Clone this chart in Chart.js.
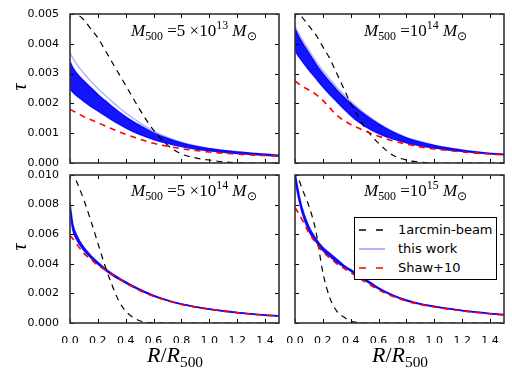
<!DOCTYPE html>
<html>
<head>
<meta charset="utf-8">
<script src="https://cdn.jsdelivr.net/npm/chart.js@4.4.0/dist/chart.umd.min.js"></script>
<style>
body { margin: 0; width: 512px; height: 376px; background: #fff; position: relative; overflow: hidden; }
canvas { position: absolute; left: 0; top: 0; }
.txt { position: absolute; font-family: "Liberation Serif", serif; white-space: nowrap; line-height: 1; color: #000; }
.txt sub, .txt sup { font-size: 0.7em; line-height: 0; }
.txt sub { vertical-align: -0.35em; }
.txt sup { vertical-align: 0.55em; }
.ann { font-size: 17px; }
.tau { font-size: 20px; font-style: italic; transform: rotate(-90deg); }
.xlab { font-size: 22px; width: 200px; text-align: center; }
#legend { position: absolute; left: 354px; top: 217px; width: 141px; height: 61px; border: 1px solid #000; background: #fff;
  font-family: "DejaVu Sans", sans-serif; font-size: 13px; z-index: 5; }
#legend div { position: absolute; left: 0; height: 19px; line-height: 19px; }
#legend svg { position: absolute; left: 3px; top: 0; }
#legend span { position: absolute; left: 43px; white-space: nowrap; }
</style>
</head>
<body>
<canvas id="pA" width="512" height="376"></canvas>
<canvas id="pB" width="512" height="376"></canvas>
<canvas id="pC" width="512" height="376"></canvas>
<canvas id="pD" width="512" height="376"></canvas>

<div class="txt ann" style="left:131px;top:22px"><i>M</i><sub>500</sub> =5 ×10<sup>13</sup> <i>M</i><sub>⊙</sub></div>
<div class="txt ann" style="left:364px;top:22px"><i>M</i><sub>500</sub> =10<sup>14</sup> <i>M</i><sub>⊙</sub></div>
<div class="txt ann" style="left:131px;top:182px"><i>M</i><sub>500</sub> =5 ×10<sup>14</sup> <i>M</i><sub>⊙</sub></div>
<div class="txt ann" style="left:364px;top:182px"><i>M</i><sub>500</sub> =10<sup>15</sup> <i>M</i><sub>⊙</sub></div>

<div class="txt tau" style="left:15px;top:77px">τ</div>
<div class="txt tau" style="left:15px;top:237px">τ</div>

<div class="txt xlab" style="left:75px;top:344px"><i>R</i>/<i>R</i><sub>500</sub></div>
<div class="txt xlab" style="left:300px;top:344px"><i>R</i>/<i>R</i><sub>500</sub></div>

<div id="legend">
  <div style="top:2px;width:141px"><svg width="30" height="19"><line x1="1" y1="10" x2="27" y2="10" stroke="#000" stroke-width="1.3" stroke-dasharray="7,10"/></svg><span>1arcmin-beam</span></div>
  <div style="top:21px;width:141px"><svg width="30" height="19"><line x1="1" y1="10" x2="27" y2="10" stroke="rgba(0,0,255,0.3)" stroke-width="2"/></svg><span>this work</span></div>
  <div style="top:40px;width:141px"><svg width="30" height="19"><line x1="1" y1="10" x2="27" y2="10" stroke="#ff0000" stroke-width="1.5" stroke-dasharray="7,10"/></svg><span>Shaw+10</span></div>
</div>

<script>
const radius = [0, 0.02, 0.05, 0.1, 0.15, 0.2, 0.25, 0.3, 0.35, 0.4, 0.45, 0.5, 0.6, 0.7, 0.8, 0.9, 1.0, 1.1, 1.2, 1.3, 1.4, 1.5];
const xTicks = [0, 0.2, 0.4, 0.6, 0.8, 1.0, 1.2, 1.4];
const yTicksTop = [0, 0.001, 0.002, 0.003, 0.004, 0.005];
const yTicksBottom = [0, 0.002, 0.004, 0.006, 0.008, 0.010];

// M500 = 5e13
const beamA = [0.0051, 0.00508, 0.0050, 0.0048, 0.0045, 0.0042, 0.0038, 0.0034, 0.0030, 0.0026, 0.0022, 0.0018, 0.0011, 0.0006, 0.0003, 0.00017, 0.0001, 0.00004, 0.00001, 0, 0, 0];
const shawA = [0.0018, 0.00175, 0.00168, 0.00155, 0.00145, 0.00135, 0.00125, 0.00115, 0.00105, 0.00096, 0.00088, 0.0008, 0.00066, 0.00056, 0.00048, 0.00042, 0.00037, 0.00033, 0.0003, 0.00027, 0.00025, 0.00023];
const workHiA = [0.0034, 0.0032, 0.0030, 0.00275, 0.00252, 0.0023, 0.0021, 0.0019, 0.00172, 0.00155, 0.0014, 0.00126, 0.00101, 0.00082, 0.00067, 0.00056, 0.00048, 0.00042, 0.00037, 0.00033, 0.00029, 0.00026];
const workLoA = [0.0025, 0.00238, 0.00225, 0.00207, 0.0019, 0.00175, 0.0016, 0.00145, 0.00131, 0.00118, 0.00106, 0.00096, 0.00079, 0.00066, 0.00055, 0.00047, 0.00041, 0.00036, 0.00032, 0.00029, 0.00026, 0.00023];
const workFaintA = [0.0037, 0.00352, 0.0033, 0.0030, 0.00274, 0.0025, 0.00228, 0.00207, 0.00187, 0.00168, 0.00151, 0.00135, 0.00107, 0.00086, 0.0007, 0.00058, 0.00049, 0.00043, 0.00038, 0.00033, 0.0003, 0.00027];

// M500 = 1e14
const beamB = [0.0052, 0.0051, 0.0049, 0.0046, 0.0043, 0.0039, 0.0035, 0.0030, 0.0025, 0.0020, 0.0016, 0.0012, 0.00066, 0.00027, 0.0001, 0.00003, 0, 0, 0, 0, 0, 0];
const shawB = [0.00275, 0.00268, 0.00258, 0.00245, 0.0023, 0.0021, 0.00185, 0.0016, 0.00143, 0.00129, 0.00118, 0.00108, 0.0009, 0.00075, 0.00063, 0.00054, 0.00047, 0.00042, 0.00037, 0.00033, 0.0003, 0.00027];
const workHiB = [0.0045, 0.0043, 0.00405, 0.00368, 0.00332, 0.0030, 0.00272, 0.00245, 0.00221, 0.0020, 0.0018, 0.00162, 0.0013, 0.00104, 0.00084, 0.0007, 0.00059, 0.0005, 0.00043, 0.00037, 0.00032, 0.00029];
const workLoB = [0.0038, 0.00362, 0.00343, 0.00312, 0.00284, 0.00256, 0.0023, 0.00206, 0.00182, 0.0016, 0.0014, 0.00124, 0.00099, 0.00081, 0.00068, 0.00058, 0.0005, 0.00044, 0.00039, 0.00035, 0.00031, 0.00028];
const workFaintB = [0.0046, 0.0044, 0.00415, 0.00378, 0.00342, 0.0031, 0.00282, 0.00254, 0.00229, 0.00207, 0.00186, 0.00167, 0.00134, 0.00107, 0.00086, 0.00072, 0.0006, 0.00051, 0.00044, 0.00038, 0.00033, 0.00029];

// M500 = 5e14
const beamC = [0.0102, 0.0101, 0.0095, 0.0083, 0.0069, 0.0054, 0.0039, 0.0026, 0.0015, 0.0008, 0.0004, 0.00015, 0.00002, 0, 0, 0, 0, 0, 0, 0, 0, 0];
const shawC = [0.0059, 0.0057, 0.0053, 0.0047, 0.0043, 0.0039, 0.0036, 0.0033, 0.003, 0.0027, 0.00245, 0.0022, 0.0018, 0.0015, 0.00125, 0.00107, 0.00093, 0.0008, 0.0007, 0.0006, 0.00052, 0.00046];
const workHiC = [0.0081, 0.0067, 0.0059, 0.0051, 0.00455, 0.0041, 0.0037, 0.00335, 0.00305, 0.00278, 0.00252, 0.00228, 0.00186, 0.00154, 0.00129, 0.0011, 0.00095, 0.00082, 0.00071, 0.00062, 0.00054, 0.00048];
const workLoC = [0.0076, 0.0063, 0.0056, 0.0049, 0.0044, 0.00397, 0.0036, 0.00325, 0.00296, 0.0027, 0.00246, 0.00223, 0.00182, 0.00151, 0.00126, 0.00108, 0.00093, 0.0008, 0.0007, 0.00061, 0.00053, 0.00047];

// M500 = 1e15
const beamD = [0.0103, 0.0099, 0.0091, 0.0079, 0.0062, 0.0034, 0.0017, 0.0008, 0.0004, 0.00012, 0.00003, 0, 0, 0, 0, 0, 0, 0, 0, 0, 0, 0];
const shawD = [0.0078, 0.0075, 0.0070, 0.0061, 0.0054, 0.0048, 0.0044, 0.0040, 0.0037, 0.0034, 0.0031, 0.0028, 0.00225, 0.0018, 0.00148, 0.00125, 0.00108, 0.00094, 0.00082, 0.00071, 0.00062, 0.00054];
const workHiD = [0.0102, 0.0091, 0.0078, 0.0065, 0.0057, 0.0051, 0.0047, 0.0043, 0.0039, 0.0036, 0.0033, 0.0030, 0.00238, 0.0019, 0.00155, 0.0013, 0.00113, 0.00098, 0.00085, 0.00074, 0.00065, 0.00057];
const workLoD = [0.0098, 0.0087, 0.0075, 0.0062, 0.0055, 0.0049, 0.0045, 0.0041, 0.0038, 0.0035, 0.0032, 0.0029, 0.0023, 0.00185, 0.0015, 0.00127, 0.0011, 0.00096, 0.00083, 0.00072, 0.00063, 0.00055];

const pts = ys => radius.map((r, i) => ({ x: r, y: ys[i] }));

// inward ticks on all four sides + the frame
const frameTicks = {
  id: 'frameTicks',
  afterDatasetsDraw(chart) {
    const { ctx, chartArea: a, scales: { x, y } } = chart;
    ctx.save();
    ctx.strokeStyle = '#000';
    ctx.lineWidth = 1;
    ctx.beginPath();
    x.ticks.forEach(t => {
      const px = Math.round(x.getPixelForValue(t.value)) + 0.5;
      ctx.moveTo(px, a.bottom); ctx.lineTo(px, a.bottom - 4);
      ctx.moveTo(px, a.top); ctx.lineTo(px, a.top + 4);
    });
    y.ticks.forEach(t => {
      const py = Math.round(y.getPixelForValue(t.value)) + 0.5;
      ctx.moveTo(a.left, py); ctx.lineTo(a.left + 4, py);
      ctx.moveTo(a.right, py); ctx.lineTo(a.right - 4, py);
    });
    ctx.stroke();
    ctx.strokeStyle = '#333';
    ctx.lineWidth = 1.6;
    ctx.strokeRect(a.left, a.top, a.width, a.height);
    ctx.restore();
  }
};

function makePanel(id, p) {
  const datasets = [
    { data: pts(p.hi), borderColor: 'rgba(0,0,255,0.9)', borderWidth: 1.5, backgroundColor: 'rgba(0,0,255,0.92)', fill: '+1', order: 2 },
    { data: pts(p.lo), borderColor: 'rgba(0,0,255,0.9)', borderWidth: 1.5, fill: false, order: 2 },
    { data: pts(p.shaw), borderColor: '#ff0000', borderWidth: 1.6, borderDash: [6, 5], fill: false, order: 0 },
    { data: pts(p.beam), borderColor: '#000', borderWidth: 1.2, borderDash: [6, 5], fill: false, order: 1 }
  ];
  if (p.faint) {
    datasets.push({ data: pts(p.faint), borderColor: 'rgba(0,0,255,0.3)', borderWidth: 1.5, fill: false, order: 3 });
  }
  const tickFont = { family: 'DejaVu Sans', size: 11 };
  new Chart(document.getElementById(id), {
    type: 'line',
    data: { datasets },
    plugins: [frameTicks],
    options: {
      responsive: false,
      animation: false,
      events: [],
      layout: { padding: p.pad },
      elements: { point: { radius: 0 }, line: { cubicInterpolationMode: 'monotone' } },
      plugins: { legend: { display: false }, tooltip: { enabled: false } },
      scales: {
        x: {
          type: 'linear', min: 0, max: 1.5,
          afterBuildTicks: s => { s.ticks = xTicks.map(v => ({ value: v })); },
          afterFit: s => { s.height = p.xh; },
          grid: { display: false }, border: { display: false },
          ticks: { display: p.showX, autoSkip: false, maxRotation: 0, padding: 4, color: '#000', font: tickFont,
                   callback: v => v.toFixed(1) }
        },
        y: {
          type: 'linear', min: 0, max: p.ymax,
          afterBuildTicks: s => { s.ticks = p.yTicks.map(v => ({ value: v })); },
          afterFit: s => { s.width = p.yw; },
          grid: { display: false }, border: { display: false },
          ticks: { display: p.showY, autoSkip: false, padding: 3, color: '#000', font: tickFont,
                   callback: v => v.toFixed(3) }
        }
      }
    }
  });
}

makePanel('pA', { beam: beamA, shaw: shawA, hi: workHiA, lo: workLoA, faint: workFaintA, ymax: 0.005, yTicks: yTicksTop,
  showX: false, showY: true, xh: 0, yw: 70, pad: { left: 0, top: 14, right: 233, bottom: 213 } });
makePanel('pB', { beam: beamB, shaw: shawB, hi: workHiB, lo: workLoB, faint: workFaintB, ymax: 0.005, yTicks: yTicksTop,
  showX: false, showY: false, xh: 0, yw: 0, pad: { left: 295, top: 14, right: 8, bottom: 213 } });
makePanel('pC', { beam: beamC, shaw: shawC, hi: workHiC, lo: workLoC, faint: null, ymax: 0.010, yTicks: yTicksBottom,
  showX: true, showY: true, xh: 20, yw: 70, pad: { left: 0, top: 175, right: 233, bottom: 33 } });
makePanel('pD', { beam: beamD, shaw: shawD, hi: workHiD, lo: workLoD, faint: null, ymax: 0.010, yTicks: yTicksBottom,
  showX: true, showY: false, xh: 20, yw: 0, pad: { left: 295, top: 175, right: 8, bottom: 33 } });
</script>
</body>
</html>
